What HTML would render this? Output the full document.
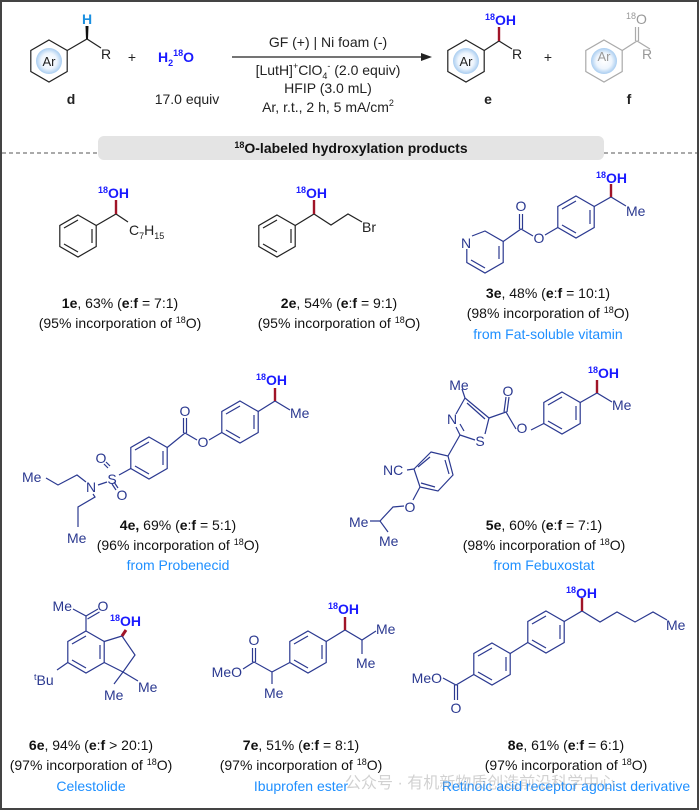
<!DOCTYPE html>
<html><head><meta charset="utf-8"><style>
html,body{margin:0;padding:0;background:#fff}
svg{display:block}
text{font-family:"Liberation Sans",Arial,sans-serif}
</style></head><body>
<svg width="699" height="810" viewBox="0 0 699 810" xmlns="http://www.w3.org/2000/svg">
<defs>
<radialGradient id="g1"><stop offset="0" stop-color="#fff"/><stop offset="0.6" stop-color="#eef5fd"/><stop offset="1" stop-color="#a9cdf0"/></radialGradient>
</defs>
<rect x="1" y="1" width="697" height="808" fill="#fff" stroke="#444" stroke-width="2"/>

<!-- HEADER -->
<g fill="none" stroke="#222" stroke-width="1.2">
<polygon points="49,40 67.2,50.5 67.2,71.5 49,82 30.8,71.5 30.8,50.5"/>
<polyline points="67.2,50.5 87,39 101,48"/>
<polygon points="466,40 484.2,50.5 484.2,71.5 466,82 447.8,71.5 447.8,50.5"/>
<polyline points="484.2,50.5 499,41 512,49"/>
</g>
<polygon points="86,39 88,39 88.5,26 85.5,26" fill="#111"/>
<circle cx="49" cy="61" r="13" fill="url(#g1)"/>
<circle cx="466" cy="61" r="13" fill="url(#g1)"/>
<g fill="none" stroke="#aaa" stroke-width="1.2">
<polygon points="604,40 622.2,50.5 622.2,71.5 604,82 585.8,71.5 585.8,50.5"/>
<polyline points="622.2,50.5 637,41 650,49"/>
<line x1="635.5" y1="41" x2="635.5" y2="27"/><line x1="638.5" y1="41" x2="638.5" y2="27"/>
</g>
<circle cx="604" cy="61" r="13" fill="url(#g1)"/>
<line x1="499" y1="41" x2="499" y2="27" stroke="#a01428" stroke-width="2.4"/>
<g font-size="14" fill="#222">
<text x="49" y="66" text-anchor="middle" font-size="13">Ar</text>
<text x="466" y="66" text-anchor="middle" font-size="13">Ar</text>
<text x="101" y="59">R</text>
<text x="512" y="59">R</text>
<text x="132" y="62" text-anchor="middle">+</text>
<text x="548" y="62" text-anchor="middle">+</text>
<text x="71" y="104" text-anchor="middle" font-weight="bold">d</text>
<text x="187" y="104" text-anchor="middle">17.0 equiv</text>
<text x="488" y="104" text-anchor="middle" font-weight="bold">e</text>
<text x="629" y="104" text-anchor="middle" font-weight="bold">f</text>
<text x="328" y="47" text-anchor="middle">GF (+) | Ni foam (-)</text>
<text x="328" y="75" text-anchor="middle">[LutH]<tspan font-size="9" dy="-6">+</tspan><tspan dy="6">ClO</tspan><tspan font-size="9" dy="4">4</tspan><tspan font-size="9" dy="-10">-</tspan><tspan dy="6"> (2.0 equiv)</tspan></text>
<text x="328" y="93" text-anchor="middle">HFIP (3.0 mL)</text>
<text x="328" y="112" text-anchor="middle">Ar, r.t., 2 h, 5 mA/cm<tspan font-size="9" dy="-6">2</tspan></text>
</g>
<text x="604" y="61" text-anchor="middle" font-size="13" fill="#999">Ar</text>
<text x="642" y="59" font-size="14" fill="#999">R</text>
<text x="626" y="24" font-size="14" fill="#999"><tspan font-size="9" dy="-5">18</tspan><tspan dy="5">O</tspan></text>
<text x="87" y="24" text-anchor="middle" font-size="14" font-weight="bold" fill="#1a8fe0">H</text>
<text x="158" y="62" font-size="14" font-weight="bold" fill="#1a1aff">H<tspan font-size="9" dy="4">2</tspan><tspan font-size="9" dy="-10">18</tspan><tspan dy="6">O</tspan></text>
<text x="485" y="25" font-size="14" font-weight="bold" fill="#1a1aff"><tspan font-size="9" dy="-5">18</tspan><tspan dy="5">OH</tspan></text>
<line x1="232" y1="57" x2="424" y2="57" stroke="#222" stroke-width="1.2"/>
<polygon points="432,57 421,53 421,61" fill="#222"/>

<!-- divider -->
<line x1="2" y1="153" x2="697" y2="153" stroke="#555" stroke-width="1" stroke-dasharray="4,3"/>
<rect x="98" y="136" width="506" height="24" rx="6" fill="#e4e4e4"/>
<text x="351" y="153" text-anchor="middle" font-size="14" font-weight="bold" fill="#111"><tspan font-size="9" dy="-5">18</tspan><tspan dy="5">O-labeled hydroxylation products</tspan></text>

<!-- 1e / 2e -->
<g fill="none" stroke="#222" stroke-width="1.2">
<polygon points="78,215 96.2,225.5 96.2,246.5 78,257 59.8,246.5 59.8,225.5"/>
<line x1="92" y1="229" x2="92" y2="243"/><line x1="78" y1="252" x2="64" y2="244"/><line x1="64" y1="228" x2="78" y2="220"/>
<polyline points="96.2,225.5 116,214 128,222"/>
<polygon points="277,215 295.2,225.5 295.2,246.5 277,257 258.8,246.5 258.8,225.5"/>
<line x1="291" y1="229" x2="291" y2="243"/><line x1="277" y1="252" x2="263" y2="244"/><line x1="263" y1="228" x2="277" y2="220"/>
<polyline points="295.2,225.5 314,214 331,225 348,214 362,222"/>
</g>
<line x1="116" y1="214" x2="116" y2="200" stroke="#a01428" stroke-width="2.4"/>
<line x1="314" y1="214" x2="314" y2="200" stroke="#a01428" stroke-width="2.4"/>
<g font-size="14" font-weight="bold" fill="#1a1aff">
<text x="98" y="198"><tspan font-size="9" dy="-5">18</tspan><tspan dy="5">OH</tspan></text>
<text x="296" y="198"><tspan font-size="9" dy="-5">18</tspan><tspan dy="5">OH</tspan></text>
<text x="596" y="183"><tspan font-size="9" dy="-5">18</tspan><tspan dy="5">OH</tspan></text>
<text x="256" y="385"><tspan font-size="9" dy="-5">18</tspan><tspan dy="5">OH</tspan></text>
<text x="588" y="378"><tspan font-size="9" dy="-5">18</tspan><tspan dy="5">OH</tspan></text>
<text x="110" y="626"><tspan font-size="9" dy="-5">18</tspan><tspan dy="5">OH</tspan></text>
<text x="328" y="614"><tspan font-size="9" dy="-5">18</tspan><tspan dy="5">OH</tspan></text>
<text x="566" y="598"><tspan font-size="9" dy="-5">18</tspan><tspan dy="5">OH</tspan></text>
</g>
<g font-size="14" fill="#222">
<text x="129" y="235">C<tspan font-size="9" dy="4">7</tspan><tspan dy="-4">H</tspan><tspan font-size="9" dy="4">15</tspan></text>
<text x="362" y="232">Br</text>
</g>

<!-- 3e -->
<g fill="none" stroke="#2b3990" stroke-width="1.2">
<polygon points="576,196 594.2,206.5 594.2,227.5 576,238 557.8,227.5 557.8,206.5"/>
<line x1="590" y1="210" x2="590" y2="224"/><line x1="576" y1="233" x2="562" y2="225"/><line x1="562" y1="209" x2="576" y2="201"/>
<polyline points="594.2,206.5 611,197 626,206"/>
<polyline points="557.8,227.5 545,235"/>
<polyline points="533,236 521,229 503.2,241.5"/>
<line x1="519.5" y1="229" x2="519.5" y2="214"/><line x1="522.5" y1="229" x2="522.5" y2="214"/>
<polyline points="472,236 485,231 503.2,241.5 503.2,262.5 485,273 466.8,262.5 466.8,249"/>
<line x1="499" y1="246" x2="499" y2="259"/><line x1="485" y1="268" x2="471" y2="260"/>
</g>
<line x1="611" y1="197" x2="611" y2="184" stroke="#a01428" stroke-width="2.4"/>
<g font-size="14" fill="#2b3990">
<text x="626" y="216">Me</text>
<text x="521" y="211" text-anchor="middle">O</text>
<text x="539" y="243" text-anchor="middle">O</text>
<text x="466" y="248" text-anchor="middle">N</text>
</g>

<!-- 4e -->
<g fill="none" stroke="#2b3990" stroke-width="1.2">
<polygon points="240,401 258.2,411.5 258.2,432.5 240,443 221.8,432.5 221.8,411.5"/>
<line x1="254" y1="415" x2="254" y2="429"/><line x1="240" y1="438" x2="226" y2="430"/><line x1="226" y1="414" x2="240" y2="406"/>
<polyline points="258.2,411.5 275,401 290,410"/>
<polyline points="221.8,432.5 209,440"/>
<polyline points="197,440 185,433 167.2,447.5"/>
<line x1="183.5" y1="433" x2="183.5" y2="418"/><line x1="186.5" y1="433" x2="186.5" y2="418"/>
<polygon points="149,437 167.2,447.5 167.2,468.5 149,479 130.8,468.5 130.8,447.5"/>
<line x1="163" y1="451" x2="163" y2="465"/><line x1="149" y1="474" x2="135" y2="466"/><line x1="135" y1="450" x2="149" y2="442"/>
<line x1="130.8" y1="468.5" x2="119" y2="475"/>
<line x1="108" y1="468" x2="104" y2="464"/><line x1="110" y1="466" x2="106" y2="462"/>
<line x1="112" y1="484" x2="116" y2="490"/><line x1="114" y1="482" x2="118" y2="488"/>
<line x1="107" y1="482" x2="98" y2="485"/>
<polyline points="86,482 77,475 58,485 46,478"/>
<polyline points="93,494 95,497 78,507 78,527"/>
</g>
<line x1="275" y1="401" x2="275" y2="388" stroke="#a01428" stroke-width="2.4"/>
<g font-size="14" fill="#2b3990">
<text x="290" y="418">Me</text>
<text x="185" y="416" text-anchor="middle">O</text>
<text x="203" y="447" text-anchor="middle">O</text>
<text x="112" y="484" text-anchor="middle">S</text>
<text x="101" y="463" text-anchor="middle">O</text>
<text x="122" y="500" text-anchor="middle">O</text>
<text x="91" y="492" text-anchor="middle">N</text>
<text x="22" y="482">Me</text>
<text x="67" y="543">Me</text>
</g>

<!-- 5e -->
<g fill="none" stroke="#2b3990" stroke-width="1.2">
<polygon points="562,392 580.2,402.5 580.2,423.5 562,434 543.8,423.5 543.8,402.5"/>
<line x1="576" y1="406" x2="576" y2="420"/><line x1="562" y1="429" x2="548" y2="421"/><line x1="548" y1="405" x2="562" y2="397"/>
<polyline points="580.2,402.5 597,393 612,402"/>
<polyline points="543.8,423.5 531,430"/>
<polyline points="516,429 506,412 489,418"/>
<line x1="504" y1="412" x2="506" y2="397"/><line x1="507" y1="412" x2="509" y2="397"/>
<line x1="489" y1="418" x2="485" y2="434"/>
<line x1="475" y1="440" x2="460" y2="435"/>
<line x1="460" y1="435" x2="456" y2="427"/>
<line x1="464" y1="431" x2="460" y2="424"/>
<line x1="456" y1="414" x2="465" y2="398"/>
<line x1="465" y1="398" x2="489" y2="418"/>
<line x1="467" y1="403" x2="485" y2="419"/>
<line x1="465" y1="398" x2="462" y2="389"/>
<line x1="460" y1="435" x2="448" y2="456"/>
<polygon points="431,452 448,456 453,475 438,491 420,487 414,469"/>
<line x1="445" y1="460" x2="449" y2="474"/><line x1="435" y1="487" x2="421" y2="483"/><line x1="418" y1="467" x2="430" y2="457"/>
<line x1="414" y1="469" x2="407" y2="470"/>
<line x1="420" y1="487" x2="413" y2="500"/>
<polyline points="404,506 393,507 380,521 370,521"/>
<line x1="380" y1="521" x2="388" y2="532"/>
</g>
<line x1="597" y1="393" x2="597" y2="380" stroke="#a01428" stroke-width="2.4"/>
<g font-size="14" fill="#2b3990">
<text x="612" y="410">Me</text>
<text x="508" y="396" text-anchor="middle">O</text>
<text x="522" y="433" text-anchor="middle">O</text>
<text x="480" y="446" text-anchor="middle">S</text>
<text x="452" y="424" text-anchor="middle">N</text>
<text x="459" y="390" text-anchor="middle">Me</text>
<text x="383" y="475">NC</text>
<text x="410" y="512" text-anchor="middle">O</text>
<text x="349" y="527">Me</text>
<text x="379" y="546">Me</text>
</g>

<!-- 6e -->
<g fill="none" stroke="#2b3990" stroke-width="1.2">
<polygon points="86,631 104.2,641.5 104.2,662.5 86,673 67.8,662.5 67.8,641.5"/>
<line x1="100" y1="645" x2="100" y2="659"/><line x1="86" y1="668" x2="72" y2="660"/><line x1="72" y1="644" x2="86" y2="636"/>
<polyline points="86,631 86,616 73,609"/>
<line x1="86" y1="616" x2="98" y2="609"/><line x1="87.5" y1="619" x2="99.5" y2="612"/>
<polyline points="104.2,641.5 122,636 135,655 123,672 104.2,662.5"/>
<line x1="123" y1="672" x2="114" y2="684"/><line x1="123" y1="672" x2="138" y2="681"/>
<line x1="67.8" y1="662.5" x2="57" y2="670"/>
</g>
<line x1="122" y1="636" x2="126" y2="630" stroke="#a01428" stroke-width="3"/>
<g font-size="14" fill="#2b3990">
<text x="72" y="611" text-anchor="end">Me</text>
<text x="103" y="611" text-anchor="middle">O</text>
<text x="34" y="685"><tspan font-size="9" dy="-5">t</tspan><tspan dy="5">Bu</tspan></text>
<text x="104" y="700">Me</text>
<text x="138" y="692">Me</text>
</g>

<!-- 7e -->
<g fill="none" stroke="#2b3990" stroke-width="1.2">
<polygon points="308,631 326.2,641.5 326.2,662.5 308,673 289.8,662.5 289.8,641.5"/>
<line x1="322" y1="645" x2="322" y2="659"/><line x1="308" y1="668" x2="294" y2="660"/><line x1="294" y1="644" x2="308" y2="636"/>
<polyline points="326.2,641.5 345,630 362,640 376,631"/>
<line x1="362" y1="640" x2="362" y2="654"/>
<polyline points="289.8,662.5 272,672 272,684"/>
<polyline points="272,672 254,662 243,669"/>
<line x1="252.5" y1="662" x2="252.5" y2="648"/><line x1="255.5" y1="662" x2="255.5" y2="648"/>
</g>
<line x1="345" y1="630" x2="345" y2="617" stroke="#a01428" stroke-width="2.4"/>
<g font-size="14" fill="#2b3990">
<text x="376" y="634">Me</text>
<text x="356" y="668">Me</text>
<text x="264" y="698">Me</text>
<text x="254" y="645" text-anchor="middle">O</text>
<text x="242" y="677" text-anchor="end">MeO</text>
</g>

<!-- 8e -->
<g fill="none" stroke="#2b3990" stroke-width="1.2">
<polygon points="546,611 564.2,621.5 564.2,642.5 546,653 527.8,642.5 527.8,621.5"/>
<line x1="560" y1="625" x2="560" y2="639"/><line x1="546" y1="648" x2="532" y2="640"/><line x1="532" y1="624" x2="546" y2="616"/>
<polyline points="564.2,621.5 582,611 600,622 617,612 635,622 653,612 667,620"/>
<line x1="527.8" y1="642.5" x2="510.2" y2="653.5"/>
<polygon points="492,643 510.2,653.5 510.2,674.5 492,685 473.8,674.5 473.8,653.5"/>
<line x1="506" y1="657" x2="506" y2="671"/><line x1="492" y1="680" x2="478" y2="672"/><line x1="478" y1="656" x2="492" y2="648"/>
<polyline points="473.8,674.5 456,685 443,678"/>
<line x1="454.5" y1="685" x2="454.5" y2="700"/><line x1="457.5" y1="685" x2="457.5" y2="700"/>
</g>
<line x1="582" y1="611" x2="582" y2="598" stroke="#a01428" stroke-width="2.4"/>
<g font-size="14" fill="#2b3990">
<text x="666" y="630">Me</text>
<text x="442" y="683" text-anchor="end">MeO</text>
<text x="456" y="713" text-anchor="middle">O</text>
</g>

<!-- captions -->
<g font-size="14" fill="#111" text-anchor="middle">
<text x="120" y="308"><tspan font-weight="bold">1e</tspan>, 63% (<tspan font-weight="bold">e</tspan>:<tspan font-weight="bold">f</tspan> = 7:1)</text>
<text x="120" y="328">(95% incorporation of <tspan font-size="9" dy="-5">18</tspan><tspan dy="5">O)</tspan></text>
<text x="339" y="308"><tspan font-weight="bold">2e</tspan>, 54% (<tspan font-weight="bold">e</tspan>:<tspan font-weight="bold">f</tspan> = 9:1)</text>
<text x="339" y="328">(95% incorporation of <tspan font-size="9" dy="-5">18</tspan><tspan dy="5">O)</tspan></text>
<text x="548" y="298"><tspan font-weight="bold">3e</tspan>, 48% (<tspan font-weight="bold">e</tspan>:<tspan font-weight="bold">f</tspan> = 10:1)</text>
<text x="548" y="318">(98% incorporation of <tspan font-size="9" dy="-5">18</tspan><tspan dy="5">O)</tspan></text>
<text x="548" y="339" fill="#1e8fff">from Fat-soluble vitamin</text>
<text x="178" y="530"><tspan font-weight="bold">4e,</tspan> 69% (<tspan font-weight="bold">e</tspan>:<tspan font-weight="bold">f</tspan> = 5:1)</text>
<text x="178" y="550">(96% incorporation of <tspan font-size="9" dy="-5">18</tspan><tspan dy="5">O)</tspan></text>
<text x="178" y="570" fill="#1e8fff">from Probenecid</text>
<text x="544" y="530"><tspan font-weight="bold">5e</tspan>, 60% (<tspan font-weight="bold">e</tspan>:<tspan font-weight="bold">f</tspan> = 7:1)</text>
<text x="544" y="550">(98% incorporation of <tspan font-size="9" dy="-5">18</tspan><tspan dy="5">O)</tspan></text>
<text x="544" y="570" fill="#1e8fff">from Febuxostat</text>
<text x="91" y="750"><tspan font-weight="bold">6e</tspan>, 94% (<tspan font-weight="bold">e</tspan>:<tspan font-weight="bold">f</tspan> &gt; 20:1)</text>
<text x="91" y="770">(97% incorporation of <tspan font-size="9" dy="-5">18</tspan><tspan dy="5">O)</tspan></text>
<text x="91" y="791" fill="#1e8fff">Celestolide</text>
<text x="301" y="750"><tspan font-weight="bold">7e</tspan>, 51%  (<tspan font-weight="bold">e</tspan>:<tspan font-weight="bold">f</tspan> = 8:1)</text>
<text x="301" y="770">(97% incorporation of <tspan font-size="9" dy="-5">18</tspan><tspan dy="5">O)</tspan></text>
<text x="301" y="791" fill="#1e8fff">Ibuprofen ester</text>
<text x="566" y="750"><tspan font-weight="bold">8e</tspan>, 61% (<tspan font-weight="bold">e</tspan>:<tspan font-weight="bold">f</tspan> = 6:1)</text>
<text x="566" y="770">(97% incorporation of <tspan font-size="9" dy="-5">18</tspan><tspan dy="5">O)</tspan></text>
<text x="566" y="791" fill="#1e8fff">Retinoic acid receptor agonist derivative</text>
</g>
<text x="345" y="788" font-size="16" fill="#999" fill-opacity="0.45" font-family="'Liberation Sans','Noto Sans CJK SC',sans-serif">公众号 · 有机新物质创造前沿科学中心</text>
</svg>
</body></html>
